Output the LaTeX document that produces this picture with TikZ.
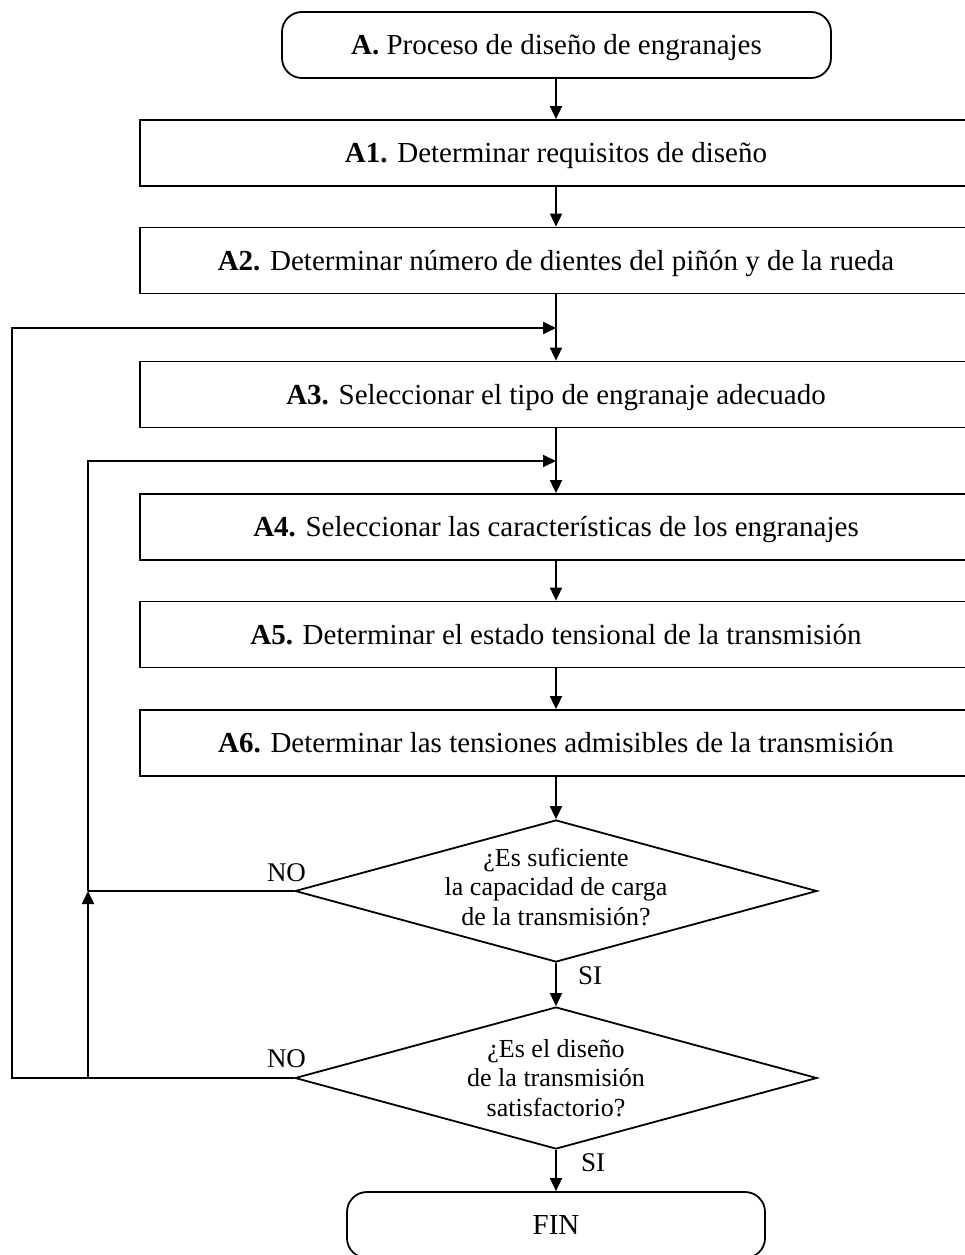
\documentclass[tikz,border=0pt]{standalone}
\usepackage{fontspec}
\setmainfont{Liberation Serif}
\usetikzlibrary{shapes.geometric,arrows.meta}
\begin{document}
\begin{tikzpicture}[x=1pt,y=-1pt,
  line width=1.8pt,
  box/.style={draw, minimum width=832pt, minimum height=66pt, inner sep=0pt,
    text height=19pt, text depth=0pt, font=\fontsize{29}{33}\selectfont},
  term/.style={box, rounded corners=20pt},
  dia/.style={draw, diamond, inner sep=0pt, minimum width=522pt, minimum height=142pt},
  dtext/.style={align=center, inner sep=0pt, font=\fontsize{26}{29.5}\selectfont},
  lab/.style={font=\fontsize{27}{30}\selectfont, text height=18pt, text depth=0pt, inner sep=0pt},
  arr/.style={-{Triangle[length=13pt,width=12pt]}},
]
\useasboundingbox (0,0) rectangle (964,1255);

\node[term, minimum width=549pt] (A) at (556.5,45) {\textbf{A.} Proceso de diseño de engranajes};
\node[box] (A1) at (556,153) {\textbf{A1.} Determinar requisitos de diseño};
\node[box] (A2) at (556,260.5) {\textbf{A2.} Determinar número de dientes del piñón y de la rueda};
\node[box] (A3) at (556,394.5) {\textbf{A3.} Seleccionar el tipo de engranaje adecuado};
\node[box] (A4) at (556,527) {\textbf{A4.} Seleccionar las características de los engranajes};
\node[box] (A5) at (556,634.5) {\textbf{A5.} Determinar el estado tensional de la transmisión};
\node[box] (A6) at (556,743) {\textbf{A6.} Determinar las tensiones admisibles de la transmisión};

\node[dia] (d1) at (556,891) {};
\node[dtext] (t1) at (556,887) {¿Es suficiente\\la capacidad de carga\\de la transmisión?};
\node[dia] (d2) at (556,1078) {};
\node[dtext] (t2) at (556,1078) {¿Es el diseño\\de la transmisión\\satisfactorio?};

\node[term, minimum width=418pt] (fin) at (556,1225) {FIN};

\node[lab] (no1) at (286.5,872) {NO};
\node[lab] (no2) at (286.5,1058) {NO};
\node[lab] (si1) at (590,975) {SI};
\node[lab] (si2) at (593,1162) {SI};

\coordinate (j1) at (556,328);
\coordinate (j2) at (556,461);
\coordinate (l1b) at (12,1078);
\coordinate (l1t) at (12,328);
\coordinate (k) at (88,891);
\coordinate (l2b) at (88,1078);
\coordinate (l2t) at (88,461);

\draw[arr] (A.south -| A1.north) -- (A1);
\draw[arr] (A1) -- (A2);
\draw[arr] (A2) -- (A3);
\draw[arr] (A3) -- (A4);
\draw[arr] (A4) -- (A5);
\draw[arr] (A5) -- (A6);
\draw[arr] (A6) -- (d1);
\draw[arr] (d1) -- (d2);
\draw[arr] (d2) -- (fin);

\draw[arr] (d2.west) -- (l1b) -- (l1t) -- (j1);
\draw (d1.west) -- (k);
\draw[arr] (l2b) -- (k);
\draw[arr] (k) -- (l2t) -- (j2);
\end{tikzpicture}
\end{document}
